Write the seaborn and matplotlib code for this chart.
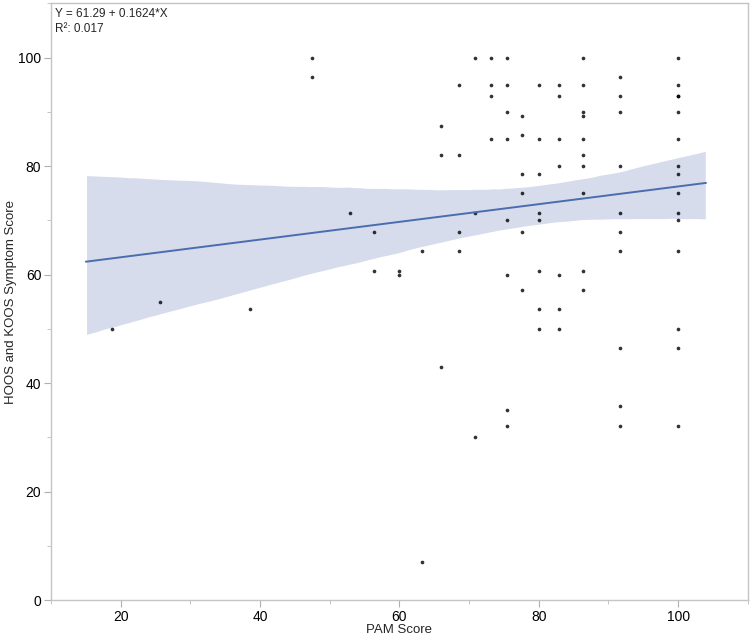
import matplotlib
matplotlib.use("Agg")
import matplotlib.pyplot as plt
from matplotlib.ticker import MultipleLocator
import seaborn as sns
import numpy as np

# PAM score columns and the symptom scores read at each of them
pam_levels = [18.8, 25.6, 38.6, 47.4, 52.9, 56.4, 60.0, 63.2, 66.0, 68.6,
              70.9, 73.2, 75.4, 77.6, 80.1, 82.9, 86.4, 91.7, 100.0]
symptom_at_level = [
    [50.0],
    [55.0],
    [53.6],
    [100.0, 96.4],
    [71.4],
    [67.9, 60.7],
    [60.7, 60.0],
    [64.3, 7.1],
    [87.5, 82.1, 42.9],
    [95.0, 82.1, 67.9, 64.3],
    [100.0, 71.4, 30.0],
    [100.0, 95.0, 92.9, 85.0],
    [100.0, 95.0, 90.0, 85.0, 70.0, 60.0, 35.0, 32.1],
    [89.3, 85.7, 78.6, 75.0, 67.9, 57.1],
    [95.0, 85.0, 78.6, 71.4, 70.0, 60.7, 53.6, 50.0],
    [95.0, 92.9, 85.0, 80.0, 60.0, 53.6, 50.0],
    [100.0, 95.0, 90.0, 89.3, 85.0, 82.1, 80.0, 75.0, 60.7, 57.1],
    [96.4, 92.9, 90.0, 80.0, 71.4, 67.9, 64.3, 46.4, 35.7, 32.1],
    [100.0, 95.0, 92.9, 92.9, 90.0, 85.0, 80.0, 78.6, 75.0, 71.4, 70.0,
     64.3, 50.0, 46.4, 32.1],
]

pam = np.array([p for p, ys in zip(pam_levels, symptom_at_level) for _ in ys])
symptom = np.array([y for ys in symptom_at_level for y in ys])

fit_label = "Y = 61.29 + 0.1624*X\nR\u00b2: 0.017"

sns.set_style("white")
plt.rcParams['font.family'] = ['Liberation Sans', 'DejaVu Sans']

fig, ax = plt.subplots(figsize=(7.5, 6.36), dpi=100)
fig.subplots_adjust(left=0.068, right=0.997, bottom=0.0566, top=0.9945)

line_col = "#4a6db0"
# fit line runs over the range 15-104, then the view is widened
ax.set_xlim(15, 104)
sns.regplot(x=pam, y=symptom, ax=ax, truncate=False, ci=92, n_boot=2000,
            seed=3,
            scatter_kws=dict(s=7, color="black", linewidths=0),
            line_kws=dict(color=line_col, lw=1.4))
for coll in ax.collections:
    if coll.__class__.__name__ in ("PolyCollection", "FillBetweenPolyCollection"):
        coll.set_facecolor("#d6dcec")
        coll.set_alpha(1)
        coll.set_zorder(0.5)

ax.set_xlim(10, 110)
ax.set_ylim(0, 110)
ax.xaxis.set_major_locator(MultipleLocator(20))
ax.xaxis.set_minor_locator(MultipleLocator(10))
ax.yaxis.set_major_locator(MultipleLocator(20))
ax.yaxis.set_minor_locator(MultipleLocator(10))

for sp in ax.spines.values():
    sp.set_color("#c4c4c4")
    sp.set_linewidth(1)
ax.tick_params(which="major", direction="out", length=5, width=0.8,
               color="#b0b0b0", labelsize=10, labelcolor="black",
               bottom=True, left=True, pad=2)
ax.tick_params(which="minor", direction="out", length=3, width=0.7,
               color="#c4c4c4", bottom=True, left=True)

ax.set_xlabel("PAM Score", fontsize=9.5, labelpad=0)
ax.set_ylabel("HOOS and KOOS Symptom Score", fontsize=9.5, labelpad=1)

ax.text(0.006, 0.992, fit_label, transform=ax.transAxes, ha="left", va="top",
        fontsize=8.5, linespacing=1.25)

fig.savefig("out.png", dpi=100)
